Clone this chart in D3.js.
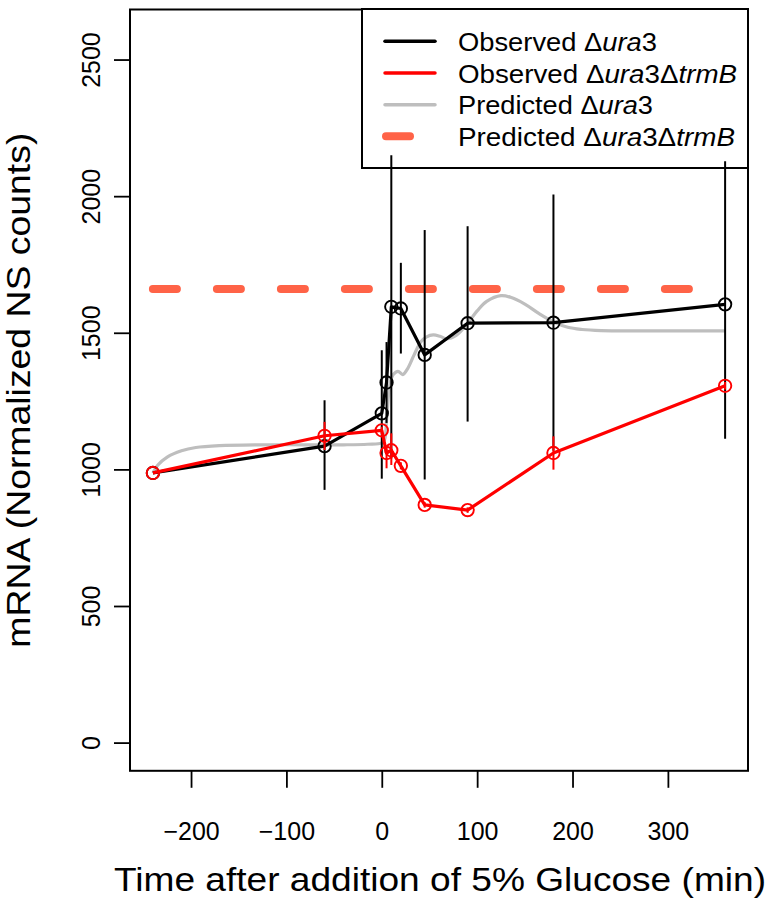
<!DOCTYPE html>
<html>
<head>
<meta charset="utf-8">
<script src="https://cdn.jsdelivr.net/npm/d3@7/dist/d3.min.js"></script>
<style>
  html, body { margin: 0; padding: 0; background: #fff; }
  svg { display: block; }
  text { font-family: "Liberation Sans", Arial, Helvetica, sans-serif; fill: #000; }
</style>
</head>
<body>
<svg id="chart" width="770" height="903"></svg>
<script>
// ---------------- data ----------------
const time = [-240, -60, 0, 5, 10, 20, 45, 90, 180, 360];
const obsUra3   = [987, 1085, 1205, 1318, 1595, 1589, 1419, 1535, 1537, 1604];
const obsUra3Lo = [987,  925,  966, 1170, 1040, 1424,  963, 1175, 1068, 1112];
const obsUra3Hi = [987, 1253, 1436, 1466, 2150, 1756, 1876, 1890, 2006, 2128];
const obsTrmB   = [987, 1123, 1143, 1060, 1070, 1013,  870,  851, 1060, 1306];
const obsTrmBLo = [987, 1071, 1130, 1004, 1016, 1000,  860,  841,  999, 1292];
const obsTrmBHi = [987, 1174, 1156, 1083, 1132, 1026,  880,  861, 1121, 1320];

const predTime = [-240, -235, -225, -210, -195, -170, -130, -80, -40, -15, 0, 3, 5, 7, 9, 12, 17, 22, 27, 34, 41, 47, 54, 61, 68, 78, 90, 100, 110, 125, 135, 150, 165, 180, 195, 210, 230, 270, 360];
const predUra3 = [987, 1015, 1045, 1068, 1080, 1087, 1090, 1090, 1090, 1092, 1097, 1110, 1180, 1270, 1320, 1347, 1359, 1347, 1368, 1420, 1467, 1485, 1492, 1487, 1478, 1490, 1535, 1580, 1615, 1636, 1630, 1605, 1570, 1540, 1520, 1512, 1508, 1507, 1507];

const predTrmBTime = [-240, 360];
const predTrmB = [1660, 1660];

const xTicks = [-200, -100, 0, 100, 200, 300];
const yTicks = [0, 500, 1000, 1500, 2000, 2500];

const legendLabels = [
  [["Observed ", false], ["\u0394", false], ["ura", true], ["3", false]],
  [["Observed ", false], ["\u0394", false], ["ura", true], ["3", false], ["\u0394", false], ["trmB", true]],
  [["Predicted ", false], ["\u0394", false], ["ura", true], ["3", false]],
  [["Predicted ", false], ["\u0394", false], ["ura", true], ["3", false], ["\u0394", false], ["trmB", true]]
];
const legendColors = ["#000000", "#FF0000", "#BEBEBE", "#FF6347"];

// ---------------- layout ----------------
const svg = d3.select("#chart");
const L = 130, R = 748, T = 9.5, B = 770.8;
const x = d3.scaleLinear().domain([-264, 384]).range([L, R]);
const y = d3.scaleLinear().domain([-103.2, 2683.2]).range([B, T]);

// axes ticks
const xAxis = svg.append("g").attr("transform", `translate(0,${B})`)
  .call(d3.axisBottom(x).tickValues(xTicks).tickSize(17).tickSizeOuter(0)
    .tickFormat(d => d < 0 ? "\u2212" + Math.abs(d) : String(d)));
xAxis.select(".domain").remove();
xAxis.selectAll(".tick line").attr("stroke", "#000").attr("stroke-width", 1.8);
xAxis.selectAll(".tick text").attr("y", 0).attr("dy", null)
  .attr("transform", "translate(0,69)")
  .style("font-size", "25px").style("font-family", "'Liberation Sans', Arial, sans-serif");

const yAxis = svg.append("g").attr("transform", `translate(${L},0)`)
  .call(d3.axisLeft(y).tickValues(yTicks).tickSize(16).tickSizeOuter(0)
    .tickFormat(d => String(d)));
yAxis.select(".domain").remove();
yAxis.selectAll(".tick line").attr("stroke", "#000").attr("stroke-width", 1.8);
yAxis.selectAll(".tick text").attr("x", null).attr("dy", null).attr("y", null)
  .attr("text-anchor", "middle")
  .attr("transform", "translate(-30,0) rotate(-90)")
  .style("font-size", "25px").style("font-family", "'Liberation Sans', Arial, sans-serif");

// axis titles
svg.append("text")
  .attr("x", 440).attr("y", 891)
  .attr("text-anchor", "middle")
  .attr("textLength", 652).attr("lengthAdjust", "spacingAndGlyphs")
  .style("font-size", "33px")
  .text("Time after addition of 5% Glucose (min)");

svg.append("text")
  .attr("transform", `translate(30,${(T + B) / 2}) rotate(-90)`)
  .attr("text-anchor", "middle")
  .attr("textLength", 515).attr("lengthAdjust", "spacingAndGlyphs")
  .style("font-size", "33px")
  .text("mRNA (Normalized NS counts)");

// plot box
svg.append("rect").attr("x", L).attr("y", T).attr("width", R - L).attr("height", B - T)
  .attr("fill", "none").attr("stroke", "#000").attr("stroke-width", 2);

// ---------------- legend ----------------
const lg = svg.append("g");
lg.append("rect").attr("x", 362).attr("y", 9).attr("width", 748 - 362).attr("height", 168 - 9)
  .attr("fill", "#fff").attr("stroke", "#000").attr("stroke-width", 2);
const rowY = [41.3, 73, 104.7, 136.3];
const textW = [199, 279, 195, 277];
legendLabels.forEach((parts, i) => {
  const ly = rowY[i];
  const ln = lg.append("line").attr("x1", 385).attr("x2", 435).attr("y1", ly).attr("y2", ly)
    .attr("stroke", legendColors[i]).attr("stroke-width", i === 3 ? 8 : 3.5)
    .attr("stroke-linecap", "round");
  if (i === 3) ln.attr("stroke-dasharray", "24 40").attr("x1", 386);
  const t = lg.append("text").attr("x", 458).attr("y", ly + 9.5)
    .attr("textLength", textW[i]).attr("lengthAdjust", "spacingAndGlyphs")
    .style("font-size", "25px");
  parts.forEach(([s, it]) => {
    t.append("tspan").text(s).style("font-style", it ? "italic" : "normal");
  });
});

// ---------------- data marks ----------------
const g = svg.append("g");

// predicted trmB dashed
g.append("path")
  .datum(predTrmBTime.map((t, i) => [t, predTrmB[i]]))
  .attr("d", d3.line().x(d => x(d[0])).y(d => y(d[1])))
  .attr("fill", "none").attr("stroke", "#FF6347").attr("stroke-width", 8)
  .attr("stroke-dasharray", "24 40").attr("stroke-linecap", "round");

// predicted ura3 grey curve
g.append("path")
  .datum(predTime.map((t, i) => [t, predUra3[i]]))
  .attr("d", d3.line().x(d => x(d[0])).y(d => y(d[1])).curve(d3.curveCatmullRom.alpha(0.5)))
  .attr("fill", "none").attr("stroke", "#BEBEBE").attr("stroke-width", 3.2);

function drawSeries(vals, lo, hi, color) {
  const pts = time.map((t, i) => [t, vals[i]]);
  g.append("path").datum(pts)
    .attr("d", d3.line().x(d => x(d[0])).y(d => y(d[1])))
    .attr("fill", "none").attr("stroke", color).attr("stroke-width", 3.2)
    .attr("stroke-linejoin", "round");
  g.selectAll(null).data(time.map((t, i) => [t, lo[i], hi[i]])).enter().append("line")
    .attr("x1", d => x(d[0])).attr("x2", d => x(d[0]))
    .attr("y1", d => y(d[1])).attr("y2", d => y(d[2]))
    .attr("stroke", color).attr("stroke-width", 2);
  g.selectAll(null).data(pts).enter().append("circle")
    .attr("cx", d => x(d[0])).attr("cy", d => y(d[1])).attr("r", 6.2)
    .attr("fill", "none").attr("stroke", color).attr("stroke-width", 1.9);
}
drawSeries(obsUra3, obsUra3Lo, obsUra3Hi, "#000000");
drawSeries(obsTrmB, obsTrmBLo, obsTrmBHi, "#FF0000");
</script>
</body>
</html>
